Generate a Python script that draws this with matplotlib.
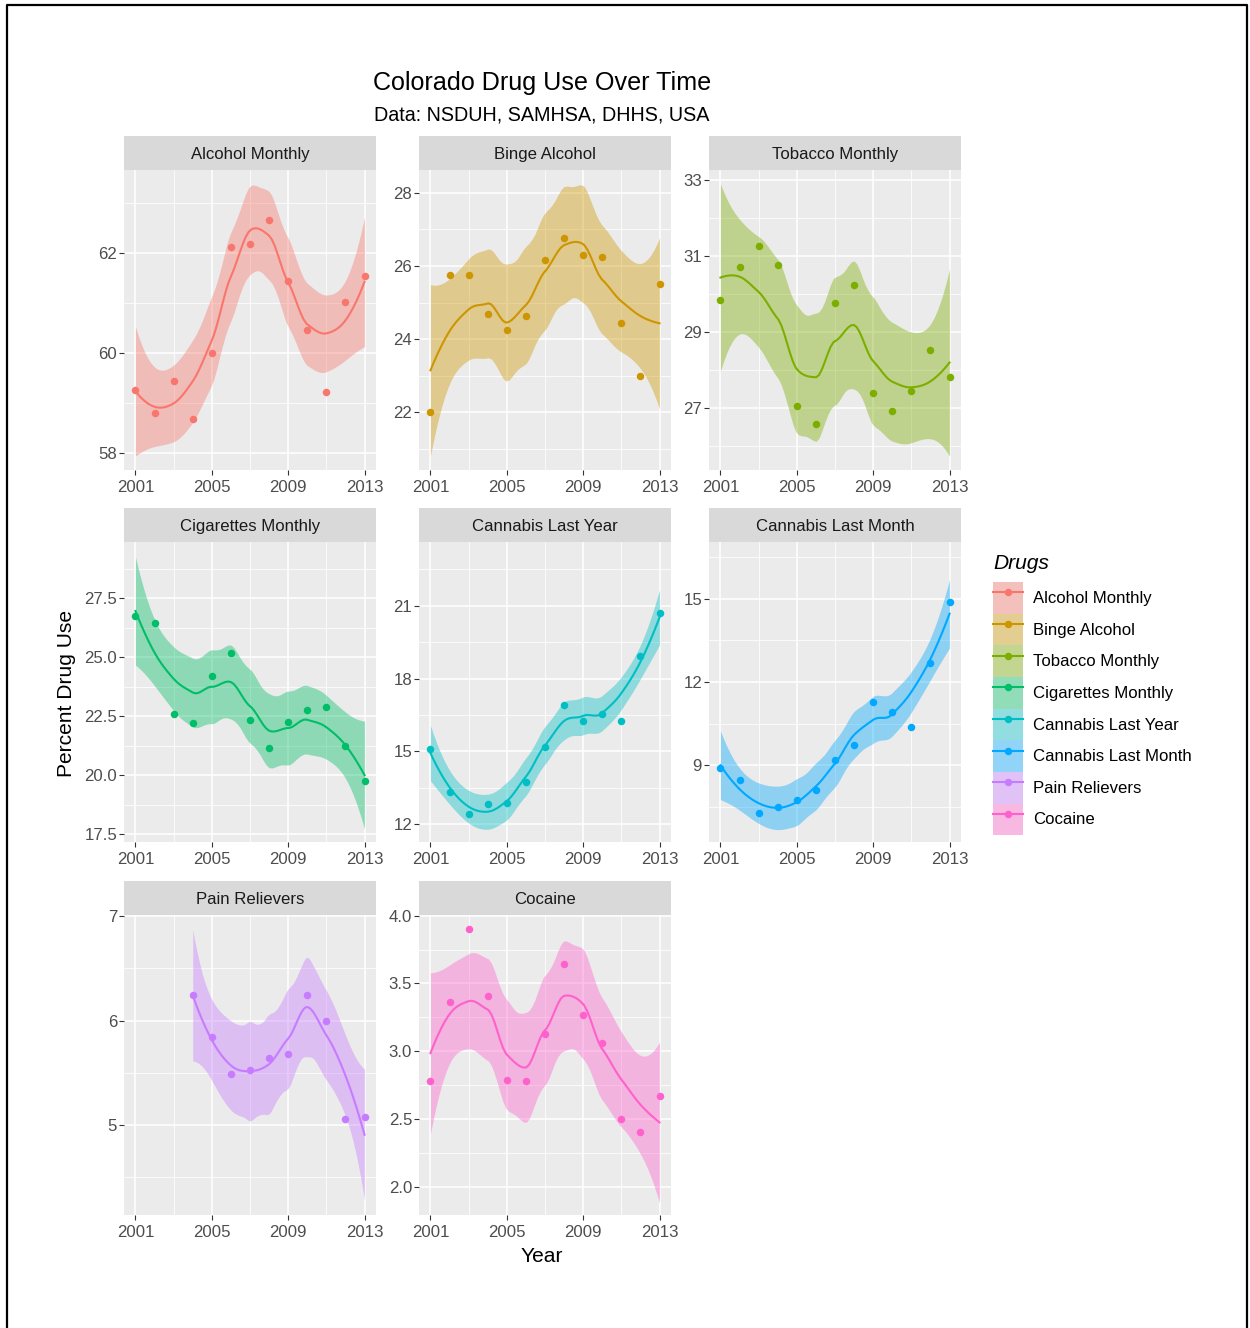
import math
import numpy as np
import matplotlib
matplotlib.use("Agg")
import matplotlib.pyplot as plt
from matplotlib.patches import Patch
from matplotlib.lines import Line2D
from matplotlib.legend_handler import HandlerTuple

plt.rcParams['font.family'] = ['Liberation Sans', 'DejaVu Sans']

# ---------------------------------------------------------------- data
years = list(range(2001, 2014))
pain_years = list(range(2004, 2014))

alcohol_monthly = [59.25, 58.79, 59.44, 58.67, 60.00, 62.13, 62.19, 62.66, 61.44, 60.46, 59.21, 61.02, 61.55]
binge_alcohol = [22.02, 25.76, 25.76, 24.70, 24.24, 24.63, 26.15, 26.76, 26.29, 26.24, 24.43, 23.00, 25.50]
tobacco_monthly = [29.82, 30.70, 31.26, 30.74, 27.04, 26.57, 29.75, 30.23, 27.38, 26.90, 27.45, 28.51, 27.81]
cigarettes_monthly = [26.75, 26.47, 22.58, 22.23, 24.22, 25.17, 22.34, 21.17, 22.25, 22.75, 22.88, 21.23, 19.76]
cannabis_last_year = [15.10, 13.31, 12.42, 12.82, 12.86, 13.72, 15.16, 16.92, 16.24, 16.52, 16.24, 18.93, 20.71]
cannabis_last_month = [8.89, 8.49, 7.29, 7.51, 7.74, 8.11, 9.19, 9.74, 11.29, 10.91, 10.38, 12.68, 14.88]
pain_relievers = [6.24, 5.84, 5.49, 5.53, 5.64, 5.68, 6.24, 6.00, 5.06, 5.08]
cocaine = [2.78, 3.36, 3.90, 3.41, 2.79, 2.78, 3.13, 3.64, 3.27, 3.06, 2.50, 2.40, 2.67]

drug_names = ["Alcohol Monthly", "Binge Alcohol", "Tobacco Monthly", "Cigarettes Monthly",
              "Cannabis Last Year", "Cannabis Last Month", "Pain Relievers", "Cocaine"]
drug_years = [years, years, years, years, years, years, pain_years, years]
drug_values = [alcohol_monthly, binge_alcohol, tobacco_monthly, cigarettes_monthly,
               cannabis_last_year, cannabis_last_month, pain_relievers, cocaine]
drug_colors = ["#F8766D", "#CD9600", "#7CAE00", "#00BE67",
               "#00BFC4", "#00A9FF", "#C77CFF", "#FF61CC"]

# free y scale of each facet
y_limits = [(57.65, 63.67), (20.43, 28.62), (25.36, 33.25), (17.17, 29.89),
            (11.26, 23.63), (6.24, 17.04), (4.14, 7.01), (1.79, 4.005)]
y_tick_labels = [
    ["58", "60", "62"],
    ["22", "24", "26", "28"],
    ["27", "29", "31", "33"],
    ["17.5", "20.0", "22.5", "25.0", "27.5"],
    ["12", "15", "18", "21"],
    ["9", "12", "15"],
    ["5", "6", "7"],
    ["2.0", "2.5", "3.0", "3.5", "4.0"],
]
x_tick_labels = ["2001", "2005", "2009", "2013"]

title = "Colorado Drug Use Over Time"
subtitle = "Data: NSDUH, SAMHSA, DHHS, USA"
x_title = "Year"
y_title = "Percent Drug Use"
legend_title = "Drugs"


# ---------------------------------------------------------------- loess smoother
# Local quadratic fits with tricube weights.  The curve is built from the fit
# value and slope at kd-tree vertices joined by cubic Hermite pieces; the
# standard errors come from the direct local fit at each output point.
def _local_operator(x, x0, q):
    d = np.abs(x - x0)
    h = np.sort(d)[q - 1]
    w = (1 - np.clip(d / h, 0, 1) ** 3) ** 3
    X = np.column_stack([np.ones_like(x), x - x0, (x - x0) ** 2])
    XtW = X.T * w
    B = np.linalg.solve(XtW @ X, XtW)
    return B[0], B[1]          # rows giving value and slope at x0


def _vertices(x):
    lo, hi = x.min(), x.max()
    mu = 0.005 * (hi - lo)
    return np.concatenate([[lo - mu], np.unique(x), [hi + mu]])


def _interp_operator(x, xs, q):
    verts = _vertices(x)
    vals, slopes = zip(*[_local_operator(x, v, q) for v in verts])
    vals, slopes = np.array(vals), np.array(slopes)
    rows = []
    for x0 in np.atleast_1d(xs):
        k = int(np.clip(np.searchsorted(verts, x0) - 1, 0, len(verts) - 2))
        v0, v1 = verts[k], verts[k + 1]
        h = v1 - v0
        t = (x0 - v0) / h
        h00 = 2 * t ** 3 - 3 * t ** 2 + 1
        h10 = t ** 3 - 2 * t ** 2 + t
        h01 = -2 * t ** 3 + 3 * t ** 2
        h11 = t ** 3 - t ** 2
        rows.append(h00 * vals[k] + h10 * h * slopes[k] + h01 * vals[k + 1] + h11 * h * slopes[k + 1])
    return np.array(rows)


def t_quantile(p, df):
    c = math.exp(math.lgamma((df + 1) / 2) - math.lgamma(df / 2)) / math.sqrt(df * math.pi)
    t = np.linspace(0, 40, 400001)
    pdf = c * (1 + t ** 2 / df) ** (-(df + 1) / 2)
    cdf = 0.5 + np.concatenate([[0], np.cumsum((pdf[1:] + pdf[:-1]) / 2 * np.diff(t))])
    return float(np.interp(p, cdf, t))


def loess_smooth(x, y, n_out=80, span=0.75, level=0.95):
    x = np.asarray(x, float)
    y = np.asarray(y, float)
    n = len(x)
    q = int(np.floor(n * span))
    L = _interp_operator(x, x, q)
    resid = y - L @ y
    M = (np.eye(n) - L).T @ (np.eye(n) - L)
    one_delta = np.trace(M)
    two_delta = np.trace(M @ M)
    s = math.sqrt(np.sum(resid ** 2) / one_delta)
    df = one_delta ** 2 / two_delta
    xg = np.linspace(x.min(), x.max(), n_out)
    fit = _interp_operator(x, xg, q) @ y
    direct = np.array([_local_operator(x, x0, q)[0] for x0 in xg])
    se = s * np.sqrt(np.sum(direct ** 2, axis=1))
    half = t_quantile(0.5 + level / 2, df) * se
    return xg, fit, fit - half, fit + half


# ---------------------------------------------------------------- layout (pixels)
W, H = 1250, 1328
fig = plt.figure(figsize=(W / 100, H / 100), dpi=100)
fig.patch.set_facecolor("white")


def frac(x0, y0, w, h):
    return [x0 / W, 1 - (y0 + h) / H, w / W, h / H]


col_left = [124, 419, 709]
row_top = [170, 542, 915]
panel_w, panel_h, strip_h = 252, 300, 34

SMALL = 12.1
BASE = 15.1

x_lim = (2001 - 0.6, 2013 + 0.6)
x_major = [float(v) for v in x_tick_labels]

for i, name in enumerate(drug_names):
    r, c = divmod(i, 3)
    left, top = col_left[c], row_top[r]
    color = drug_colors[i]
    ax = fig.add_axes(frac(left, top, panel_w, panel_h))
    ax.set_facecolor("#EBEBEB")
    for sp in ax.spines.values():
        sp.set_visible(False)

    xg, fit, lo, hi = loess_smooth(drug_years[i], drug_values[i])
    ax.fill_between(xg, lo, hi, color=color, alpha=0.4, lw=0, zorder=2)
    ax.plot(xg, fit, color=color, lw=1.5, zorder=3)
    ax.plot(drug_years[i], drug_values[i], "o", color=color, ms=5.4, mew=0, zorder=4)

    ax.set_xlim(*x_lim)
    yt = [float(v) for v in y_tick_labels[i]]
    step = yt[1] - yt[0]
    ax.set_yticks(yt)
    ax.set_yticklabels(y_tick_labels[i])
    minor_y = [v + step / 2 for v in [yt[0] - step] + yt]
    ax.set_yticks(minor_y, minor=True)
    ax.set_xticks(x_major)
    ax.set_xticklabels(x_tick_labels)
    ax.set_xticks([2003, 2007, 2011], minor=True)
    ax.set_ylim(*y_limits[i])

    ax.grid(which="major", color="white", lw=1.1, zorder=0)
    ax.grid(which="minor", color="white", lw=0.55, zorder=0)
    ax.set_axisbelow(True)
    ax.tick_params(which="major", length=3.5, width=0.8, color="#333333",
                   labelsize=SMALL, labelcolor="#4D4D4D")
    ax.tick_params(axis="x", which="major", pad=4)
    ax.tick_params(axis="y", which="major", pad=1.5)
    ax.tick_params(which="minor", length=0)

    sx = fig.add_axes(frac(left, top - strip_h, panel_w, strip_h))
    sx.set_facecolor("#D9D9D9")
    sx.set_xticks([])
    sx.set_yticks([])
    for sp in sx.spines.values():
        sp.set_visible(False)
    sx.text(0.5, 0.47, name, ha="center", va="center", fontsize=SMALL,
            color="#1A1A1A", transform=sx.transAxes)

# titles
fig.text(542 / W, 1 - 83 / H, title, ha="center", va="center", fontsize=18.1, color="black")
fig.text(542 / W, 1 - 115 / H, subtitle, ha="center", va="center", fontsize=14.2, color="black")
fig.text(542 / W, 1 - 1257 / H, x_title, ha="center", va="center", fontsize=BASE, color="black")
fig.text(66 / W, 1 - 693 / H, y_title, ha="center", va="center", rotation=90,
         fontsize=BASE, color="black")

# legend
fig.text(993 / W, 1 - 563 / H, legend_title, ha="left", va="center",
         fontsize=BASE, style="italic", color="black")
handles = []
for color in drug_colors:
    handles.append((Patch(facecolor="#F2F2F2", edgecolor="none"),
                    Patch(facecolor=color, alpha=0.4, edgecolor="none"),
                    Line2D([], [], color=color, lw=1.5, marker="o", ms=5.4, mew=0)))
leg = fig.legend(handles, drug_names, loc="upper left",
                 bbox_to_anchor=(993 / W, 1 - 582 / H), frameon=False,
                 handler_map={tuple: HandlerTuple(ndivide=1, pad=0)},
                 fontsize=SMALL, handlelength=1.78, handleheight=2.52,
                 labelspacing=0, handletextpad=0.62, borderpad=0, borderaxespad=0)

# outer frame
ov = fig.add_axes([0, 0, 1, 1], facecolor="none")
ov.set_xlim(0, W)
ov.set_ylim(H, 0)
ov.axis("off")
ov.plot([7, 7, 1247, 1247], [H + 5, 5, 5, H + 5], color="black", lw=1.6, clip_on=False)

fig.savefig("out.png", dpi=100)
